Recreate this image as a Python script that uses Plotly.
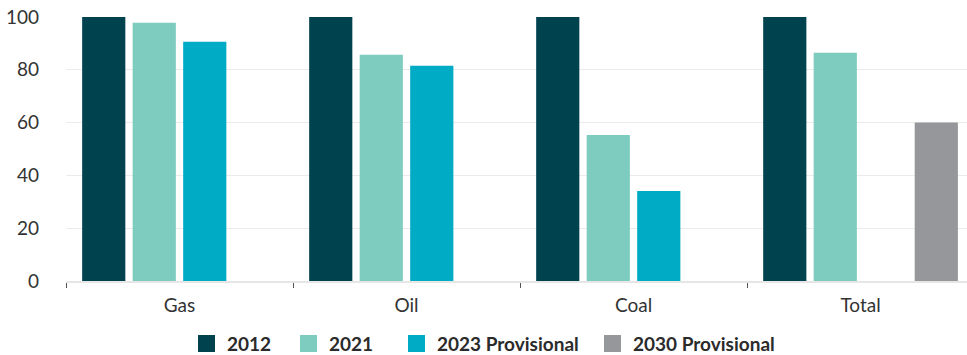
import plotly.graph_objects as go

categories = ["Gas", "Oil", "Coal", "Total"]
series_names = ["2012", "2021", "2023 Provisional", "2030 Provisional"]
values_2012 = [100, 100, 100, 100]
values_2021 = [97.8, 85.7, 55.3, 86.5]
values_2023 = [90.6, 81.5, 34.1, None]
values_2030 = [None, None, None, 60]
colors = ["#01424f", "#7ecbbf", "#00abc6", "#96979a"]
y_ticks = [0, 20, 40, 60, 80, 100]

FONT = "Lato"
W, H = 967, 355
ML, MR, MT, MB = 66, 0, 17, 74
PLOT_W = W - ML - MR
PLOT_H = H - MT - MB


def px_x(px):
    return (px - ML) / PLOT_W


def px_y(py):
    return (H - MB - py) / PLOT_H


fig = go.Figure()
for name, vals, col in zip(series_names,
                           [values_2012, values_2021, values_2023, values_2030],
                           colors):
    fig.add_trace(go.Bar(x=categories, y=vals, name=name, showlegend=False,
                         marker=dict(color=col, line=dict(width=0))))

# Legend row: coloured square followed by its label
legend_left = [198, 300, 408, 604]
shapes, annotations = [], []
for left, name, col in zip(legend_left, series_names, colors):
    shapes.append(dict(type="rect", xref="paper", yref="paper",
                       x0=px_x(left), x1=px_x(left + 17),
                       y0=px_y(352), y1=px_y(335),
                       fillcolor=col, line=dict(width=0)))
    annotations.append(dict(xref="paper", yref="paper",
                            x=px_x(left + 27), y=px_y(343.5),
                            xanchor="left", yanchor="middle", showarrow=False,
                            text=name,
                            font=dict(family=FONT, size=19, color="#2b2b2b",
                                      weight="bold")))

fig.update_layout(
    width=W, height=H,
    margin=dict(l=ML, r=MR, t=MT, b=MB),
    paper_bgcolor="white", plot_bgcolor="white",
    barmode="group", bargap=0.11, bargroupgap=0.145,
    font=dict(family=FONT, color="#333333", size=18),
    showlegend=False,
    shapes=shapes, annotations=annotations,
)
fig.update_xaxes(range=[-0.5, 3.469], tickson="boundaries", ticks="outside",
                 ticklen=5, tickcolor="#555555", tickwidth=1,
                 showline=True, linecolor="#e6e6e6", linewidth=2,
                 showgrid=False, ticklabelstandoff=6,
                 tickfont=dict(size=19, color="#333333"))
fig.update_yaxes(range=[0, 100], tickvals=y_ticks, showgrid=True,
                 gridcolor="#ebebeb", gridwidth=1.2, zeroline=False,
                 ticklabelstandoff=26, tickfont=dict(size=19, color="#333333"))

fig.write_html("out.html")
